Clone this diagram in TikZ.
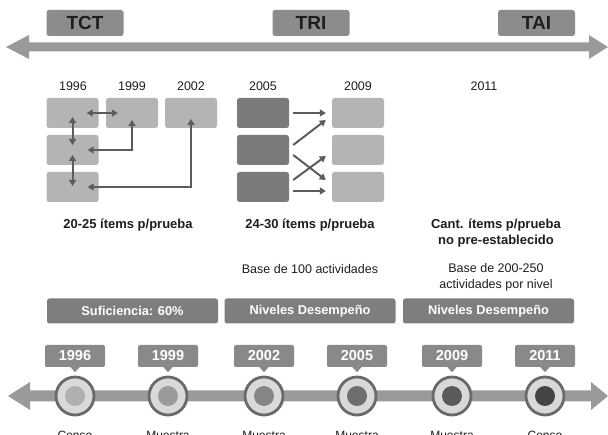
\documentclass[tikz,border=0pt]{standalone}
\usepackage{fontspec}
\setmainfont{Liberation Sans}
\usetikzlibrary{arrows.meta,calc}
\definecolor{arrowgray}{HTML}{9A9A9A}
\definecolor{labelgray}{HTML}{8C8C8C}
\definecolor{lightbox}{HTML}{B4B4B4}
\definecolor{darkbox}{HTML}{7B7B7B}
\definecolor{linkgray}{HTML}{5C5C5C}
\definecolor{bargray}{HTML}{7E7E7E}
\definecolor{yeargray}{HTML}{898989}
\definecolor{ringfill}{HTML}{D9D9D9}
\definecolor{ringline}{HTML}{6A6A6A}
\definecolor{txt}{HTML}{1E1E1E}
\begin{document}
\begin{tikzpicture}[x=1pt,y=-1pt,
  toplabel/.style={fill=labelgray, rounded corners=2.5pt, minimum width=77pt, minimum height=26pt, inner sep=0pt,
    text=txt, font=\fontsize{19}{21}\selectfont\bfseries},
  gbox/.style={rounded corners=2.5pt, minimum width=52pt, minimum height=30pt, inner sep=0pt},
  lbox/.style={gbox, fill=lightbox},
  dbox/.style={gbox, fill=darkbox},
  yr/.style={text=txt, font=\fontsize{12.5}{14}\selectfont, inner sep=0pt},
  link/.style={draw=linkgray, line width=2pt, {Triangle[length=6pt,width=7pt]}-{Triangle[length=6pt,width=7pt]}},
  olink/.style={draw=linkgray, line width=2pt, -{Triangle[length=6pt,width=7pt]}},
  bold/.style={text=txt, font=\fontsize{13}{16}\selectfont\bfseries, align=center, inner sep=0pt},
  plain/.style={text=txt, font=\fontsize{12.5}{16}\selectfont, align=center, inner sep=0pt},
  bar/.style={fill=bargray, rounded corners=2.5pt, minimum width=171pt, minimum height=25pt, inner sep=0pt,
    text=white, font=\fontsize{12.8}{14}\selectfont\bfseries},
  yearbox/.style={fill=yeargray, rounded corners=2pt, minimum width=60pt, minimum height=22pt, inner sep=0pt,
    text=white, font=\fontsize{14.5}{16}\selectfont\bfseries},
  ring/.style={circle, draw=ringline, line width=2.8pt, fill=ringfill, minimum size=38pt, inner sep=0pt},
  dot/.style={circle, minimum size=20pt, inner sep=0pt},
  captxt/.style={text=txt, font=\fontsize{12}{14}\selectfont, inner sep=0pt}
]
\clip (0,0) rectangle (608,435);
\fill[white] (0,0) rectangle (608,435);

% ---------- top axis ----------
\fill[arrowgray] (6,47) -- (29,35) -- (29,42.5) -- (589,42.5) -- (589,35) -- (608,47)
  -- (589,59) -- (589,51.5) -- (29,51.5) -- (29,59) -- cycle;
\node[toplabel] (tct) at (85,23) {TCT};
\node[toplabel] (tri) at (311,23) {TRI};
\node[toplabel] (tai) at (536.5,23) {TAI};

% ---------- year labels ----------
\node[yr] (y96) at (73,86) {1996};
\node[yr] (y99) at (132,86) {1999};
\node[yr] (y02) at (191,86) {2002};
\node[yr] (y05) at (263,86) {2005};
\node[yr] (y09) at (358,86) {2009};
\node[yr] (y11) at (484,86) {2011};

% ---------- left grid ----------
\node[lbox] (b11) at (72.5,113) {};
\node[lbox] (b21) at (72.5,150) {};
\node[lbox] (b31) at (72.5,187) {};
\node[lbox] (b12) at (132,113) {};
\node[lbox] (b13) at (191,113) {};

\draw[link] ([xshift=-12pt]b11.east) -- ([xshift=12pt]b12.west);
\draw[link] ([yshift=-4pt]b11.center) -- ([yshift=5pt]b21.center);
\draw[link] ([yshift=-5pt]b21.center) -- ([yshift=1pt]b31.center);
\draw[link] ([yshift=-7pt]b12.center) |- ([xshift=-11pt]b21.east);
\draw[link] ([yshift=-6pt]b13.center) |- ([xshift=-11pt]b31.east);

% ---------- middle grid ----------
\node[dbox] (b41) at (263,113) {};
\node[dbox] (b42) at (263,150) {};
\node[dbox] (b43) at (263,187) {};
\node[lbox] (b51) at (358,113) {};
\node[lbox] (b52) at (358,150) {};
\node[lbox] (b53) at (358,187) {};

\draw[olink] ([xshift=4pt]b41.east) -- ([xshift=-6pt]b51.west);
\draw[olink] ([shift={(4pt,5pt)}]b42.east) -- ([shift={(-6pt,-7pt)}]b51.west);
\draw[olink] ([shift={(4pt,-5pt)}]b42.east) -- ([shift={(-6pt,7pt)}]b53.west);
\draw[olink] ([shift={(4pt,7pt)}]b43.east) -- ([shift={(-6pt,-6pt)}]b52.west);
\draw[olink] ([shift={(4pt,-4pt)}]b43.east) -- ([shift={(-6pt,-4pt)}]b53.west);

% ---------- descriptions ----------
\node[bold] (d1) at (128,225) {20-25 ítems p/prueba};
\node[bold] (d2) at (310,225) {24-30 ítems p/prueba};
\node[bold] (d3) at (496,233) {Cant. ítems p/prueba\\no pre-establecido};
\node[plain] (e2) at (310,269) {Base de 100 actividades};
\node[plain] (e3) at (496,277) {Base de 200-250\\actividades por nivel};

% ---------- bars ----------
\node[bar] (s1) at (132.5,311) {Suficiencia: 60\%};
\node[bar] (s2) at (310,311) {Niveles Desempeño};
\node[bar] (s3) at (488.5,311) {Niveles Desempeño};

% ---------- bottom timeline ----------
\fill[arrowgray] (8,396) -- (30,382) -- (30,390.5) -- (591,390.5) -- (591,382) -- (608,396)
  -- (591,410) -- (591,401.5) -- (30,401.5) -- (30,410) -- cycle;

\foreach \x/\yy/\c/\lab/\n in {75/1996/B0B0B0/Censo/1, 168/1999/9A9A9A/Muestra/2, 264/2002/858585/Muestra/3,
    357/2005/6E6E6E/Muestra/4, 452/2009/5A5A5A/Muestra/5, 545/2011/444444/Censo/6}{
  \definecolor{dotc}{HTML}{\c}
  \node[yearbox] (yb\n) at (\x,356) {\yy};
  \fill[yeargray] ($(yb\n.south)+(-5pt,0.5pt)$) -- ($(yb\n.south)+(5pt,0.5pt)$) -- ($(yb\n.south)+(0,-5pt)$) -- cycle;
  \node[ring] (r\n) at (\x,396) {};
  \node[dot, fill=dotc] (c\n) at (r\n.center) {};
  \node[captxt] (t\n) at (\x,435) {\lab};
}
\end{tikzpicture}
\end{document}
